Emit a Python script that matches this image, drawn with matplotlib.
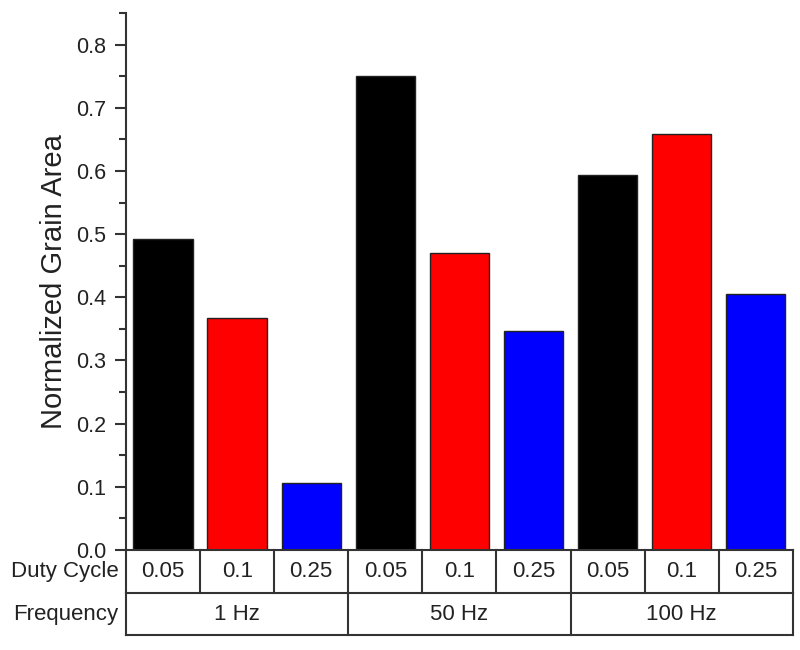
import matplotlib
matplotlib.use("Agg")
import matplotlib.pyplot as plt
from matplotlib.ticker import MultipleLocator

plt.rcParams['font.family'] = ['Liberation Sans', 'DejaVu Sans']

frequencies = ["1 Hz", "50 Hz", "100 Hz"]
duty_cycles = ["0.05", "0.1", "0.25"]
values = [0.493, 0.367, 0.106,
          0.751, 0.470, 0.346,
          0.594, 0.658, 0.406]
bar_colors = ["#000000", "#ff0000", "#0000ff"]

fig = plt.figure(figsize=(8, 6.5), dpi=100)
ax = fig.add_axes([0.1575, 0.1538, 0.8335, 0.8262])

n = len(values)
xs = list(range(n))
cols = [bar_colors[i % 3] for i in range(n)]
ax.bar(xs, values, width=0.8, color=cols, edgecolor="#222222", linewidth=1)

ax.set_xlim(-0.5, n - 0.5)
ax.set_ylim(0, 0.85)
ax.yaxis.set_major_locator(MultipleLocator(0.1))
ax.yaxis.set_minor_locator(MultipleLocator(0.05))
ax.yaxis.set_major_formatter(plt.FuncFormatter(lambda v, p: f"{v:.1f}"))
ax.tick_params(axis='y', which='major', length=8, width=1.5, labelsize=15.5, pad=6,
               color="#333333", labelcolor="#222222")
ax.tick_params(axis='y', which='minor', length=5, width=1.5, color="#333333")
ax.tick_params(axis='x', bottom=False, labelbottom=False)
for s in ["top", "right", "bottom"]:
    ax.spines[s].set_visible(False)
ax.spines["left"].set_linewidth(1.5)
ax.spines["left"].set_color("#333333")
ax.set_ylabel("Normalized Grain Area", fontsize=21, color="#222222", labelpad=6)

# table below
trans = ax.get_xaxis_transform()
r1 = -43 / 537
r2 = -85 / 537
lc = "#333333"
lw = 1.5
x0, x1 = -0.5, n - 0.5
for yv in (0, r1, r2):
    ax.plot([x0, x1], [yv, yv], transform=trans, color=lc, lw=lw, clip_on=False)
for i in range(n + 1):
    ax.plot([i - 0.5, i - 0.5], [0, r1], transform=trans, color=lc, lw=lw, clip_on=False)
for g in range(len(frequencies) + 1):
    xv = g * 3 - 0.5
    ax.plot([xv, xv], [r1, r2], transform=trans, color=lc, lw=lw, clip_on=False)
for i in range(n):
    ax.text(i, r1 / 2, duty_cycles[i % 3], transform=trans, ha="center", va="center",
            fontsize=16, color="#222222")
for g, f in enumerate(frequencies):
    ax.text(g * 3 + 1, (r1 + r2) / 2, f, transform=trans, ha="center", va="center",
            fontsize=16, color="#222222")
ax.text(-0.6, r1 / 2, "Duty Cycle", transform=trans, ha="right", va="center",
        fontsize=16, color="#222222")
ax.text(-0.6, (r1 + r2) / 2, "Frequency", transform=trans, ha="right", va="center",
        fontsize=16, color="#222222")

fig.savefig("out.png", dpi=100)
